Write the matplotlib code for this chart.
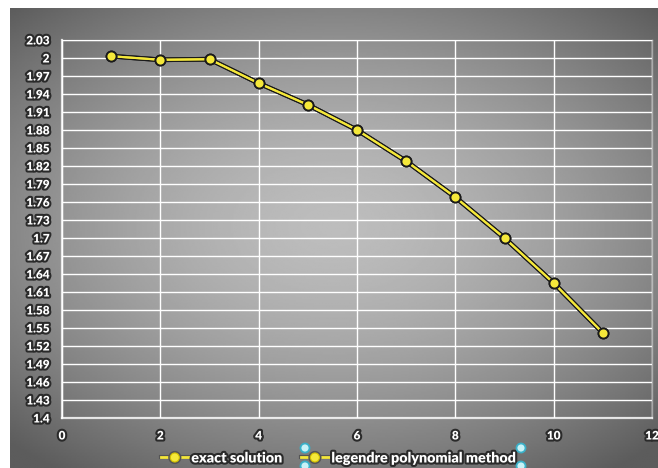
import numpy as np
import matplotlib
matplotlib.use("Agg")
import matplotlib.pyplot as plt
import matplotlib.patheffects as pe
from matplotlib.lines import Line2D
from matplotlib.patches import Ellipse

# data
x_vals = [1, 2, 3, 4, 5, 6, 7, 8, 9, 10, 11]
exact = [2.003, 1.997, 1.998, 1.958, 1.922, 1.880, 1.828, 1.768, 1.700, 1.625, 1.542]
legendre = [2.003, 1.997, 1.998, 1.958, 1.922, 1.880, 1.828, 1.768, 1.700, 1.625, 1.542]
series_names = ["exact solution", "legendre polynomial method"]
y_ticks = [1.4, 1.43, 1.46, 1.49, 1.52, 1.55, 1.58, 1.61, 1.64, 1.67, 1.7,
           1.73, 1.76, 1.79, 1.82, 1.85, 1.88, 1.91, 1.94, 1.97, 2, 2.03]
y_labels = ["1.4", "1.43", "1.46", "1.49", "1.52", "1.55", "1.58", "1.61", "1.64", "1.67", "1.7",
            "1.73", "1.76", "1.79", "1.82", "1.85", "1.88", "1.91", "1.94", "1.97", "2", "2.03"]
x_ticks = [0, 2, 4, 6, 8, 10, 12]

W, H = 658, 468
fig = plt.figure(figsize=(W / 100, H / 100), dpi=100)
fig.patch.set_facecolor("white")

# gray radial gradient background (Excel style)
bg = fig.add_axes([10 / W, 0, (W - 10) / W, (H - 8) / H], zorder=-5)
gx, gy = np.meshgrid(np.linspace(-1, 1, 400), np.linspace(-1, 1, 300))
r = np.sqrt((gx * 1.0) ** 2 + ((gy + 0.05) * 1.1) ** 2)
val = 0.74 - 0.38 * np.clip(r / 1.45, 0, 1) ** 1.6
bg.imshow(val, cmap="gray", vmin=0, vmax=1, aspect="auto", extent=[0, 1, 0, 1])
bg.axis("off")

ax = fig.add_axes([62 / W, 50 / H, 590 / W, 378 / H])
ax.set_facecolor("none")

outline = [pe.withStroke(linewidth=3, foreground="#2a2a2a")]
grid_col = (1, 1, 1, 0.42)

for xs, ys in [(x_vals, exact), (x_vals, legendre)]:
    ax.plot(xs, ys, color="#1a1a1a", lw=3.4, zorder=3, solid_capstyle="round")
    ax.plot(xs, ys, color="#f5e83a", lw=1.5, zorder=4)
    ax.plot(xs, ys, ls="none", marker="o", ms=7.2, mfc="#f5e83a",
            mec="#1a1a1a", mew=1.3, zorder=5)

ax.set_xlim(0, 12)
ax.set_ylim(1.4, 2.03)
ax.set_xticks(x_ticks)
ax.set_yticks(y_ticks)
ax.set_yticklabels(y_labels)
ax.grid(True, color=grid_col, lw=1.0)
ax.set_axisbelow(True)
ax.tick_params(length=0, pad=9, labelcolor="white")
ax.tick_params(axis="x", pad=9)
for lab in ax.get_xticklabels() + ax.get_yticklabels():
    lab.set_fontfamily("Lato")
    lab.set_fontweight("heavy")
    lab.set_fontsize(8.5)
    lab.set_path_effects(outline)
for s in ["left", "bottom"]:
    ax.spines[s].set_color((1, 1, 1, 0.8))
    ax.spines[s].set_linewidth(1.6)
for s in ["top", "right"]:
    ax.spines[s].set_color(grid_col)
    ax.spines[s].set_linewidth(1.0)

# legend
handles = []
for name in series_names:
    h = Line2D([], [], color="#f5e83a", lw=2, marker="o", ms=6.5,
               mfc="#f5e83a", mec="#d4c100", mew=0.8,
               path_effects=[pe.withStroke(linewidth=3, foreground="#555555")])
    handles.append(h)
leg = fig.legend(handles, series_names, loc="center", bbox_to_anchor=(338 / W, 1 - 458 / H),
                 ncol=2, frameon=False, handlelength=2.0, handletextpad=0.15,
                 columnspacing=1.3, prop={"family": "Lato", "weight": "heavy", "size": 10.3})
for t in leg.get_texts():
    t.set_color("white")
    t.set_path_effects([pe.withStroke(linewidth=3, foreground="#2a2a2a")])

# selection handles around the second legend entry
for px, py in [(305, 448), (305, 466), (521, 448), (521, 466)]:
    fig.patches.append(Ellipse((px / W, 1 - py / H), 9 / W, 9 / H, transform=fig.transFigure,
                               fc="#c8f2f7", ec="#3ab0c8", lw=1.3, zorder=10))

fig.savefig("out.png", dpi=100)
